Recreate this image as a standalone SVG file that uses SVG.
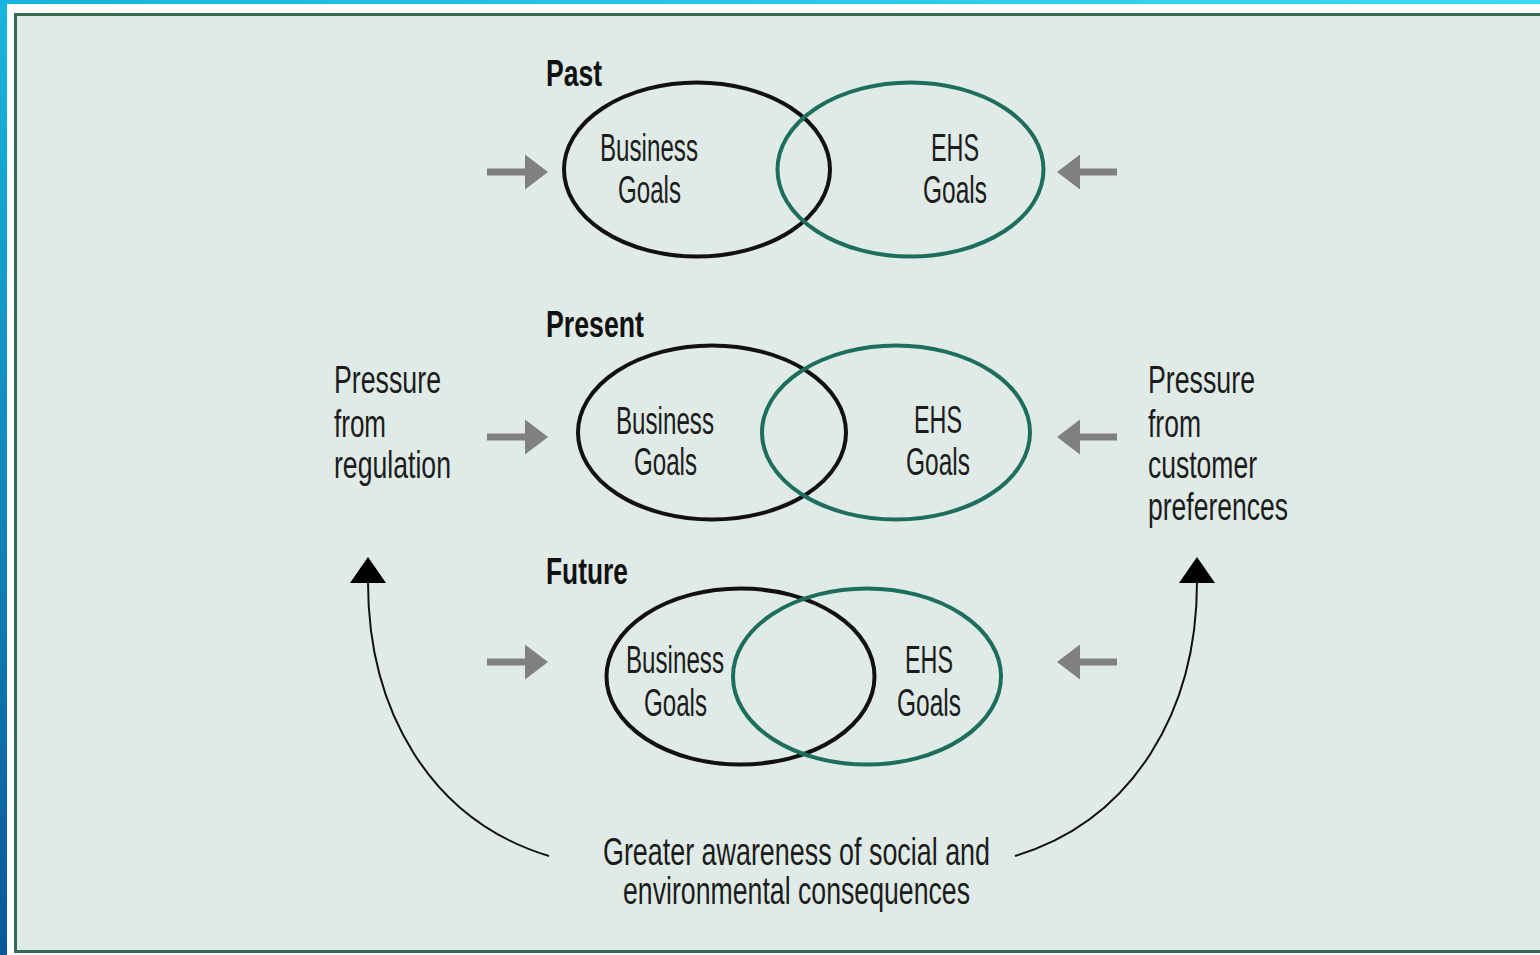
<svg xmlns="http://www.w3.org/2000/svg" xmlns:xlink="http://www.w3.org/1999/xlink" width="1540" height="955" viewBox="0 0 1540 955">
<style>
.t{font-family:"Liberation Sans",Arial,sans-serif;font-size:39px;fill:#1c1c1c}
.b{font-family:"Liberation Sans",Arial,sans-serif;font-size:37px;font-weight:bold;fill:#111}
.bk{fill:none;stroke:#111;stroke-width:4}
.gr{fill:none;stroke:#1d6e5c;stroke-width:4}
.ar{fill:#808080}
.cv{fill:none;stroke:#111;stroke-width:2}
</style>
<defs>
<linearGradient id="bgL" x1="0" y1="0" x2="0" y2="1">
<stop offset="0" stop-color="#18b6df"/>
<stop offset="1" stop-color="#0a5897"/>
</linearGradient>
<linearGradient id="bgT" x1="0" y1="0" x2="1" y2="0">
<stop offset="0" stop-color="#16b4de"/>
<stop offset="1" stop-color="#3fd8f5"/>
</linearGradient>
<path id="arR" d="M487,-3.5 H525 V-17.5 L548,0 L525,17.5 V3.5 H487 Z"/>
<path id="arL" d="M1117,-3.5 H1080 V-17.5 L1057,0 L1080,17.5 V3.5 H1117 Z"/>
</defs>
<g id="background">
<rect x="0" y="0" width="1540" height="955" fill="url(#bgL)"/>
<rect x="0" y="0" width="1540" height="4" fill="url(#bgT)"/>
<rect x="7" y="4" width="1533" height="951" fill="#ffffff"/>
<rect x="15.5" y="14.5" width="1540" height="937" fill="#e0ebe7" stroke="#356b50" stroke-width="3"/>
</g>
<g id="connectors">
<use xlink:href="#arR" class="ar" transform="translate(0,172)"/>
<use xlink:href="#arL" class="ar" transform="translate(0,172)"/>
<use xlink:href="#arR" class="ar" transform="translate(0,437)"/>
<use xlink:href="#arL" class="ar" transform="translate(0,437)"/>
<use xlink:href="#arR" class="ar" transform="translate(0,662)"/>
<use xlink:href="#arL" class="ar" transform="translate(0,662)"/>
<path class="cv" d="M549,856 C430,820 368,710 368,582"/>
<polygon points="368,557 386,583 350,583" fill="#000"/>
<path class="cv" d="M1015,856 C1134,820 1197,710 1197,582"/>
<polygon points="1197,557 1215,583 1179,583" fill="#000"/>
</g>
<g id="past">
<text class="b" x="546" y="86" textLength="56" lengthAdjust="spacingAndGlyphs">Past</text>
<ellipse class="bk" cx="697" cy="169.5" rx="133" ry="87"/>
<ellipse class="gr" cx="910.5" cy="169.5" rx="133" ry="87"/>
<text class="t" x="600" y="161" textLength="98" lengthAdjust="spacingAndGlyphs">Business</text>
<text class="t" x="618" y="203" textLength="63" lengthAdjust="spacingAndGlyphs">Goals</text>
<text class="t" x="931" y="161" textLength="48" lengthAdjust="spacingAndGlyphs">EHS</text>
<text class="t" x="923" y="203" textLength="64" lengthAdjust="spacingAndGlyphs">Goals</text>
</g>
<g id="present">
<text class="b" x="546" y="337" textLength="98" lengthAdjust="spacingAndGlyphs">Present</text>
<ellipse class="bk" cx="712" cy="432.5" rx="134" ry="87"/>
<ellipse class="gr" cx="896" cy="432.5" rx="134" ry="87"/>
<text class="t" x="616" y="434" textLength="98" lengthAdjust="spacingAndGlyphs">Business</text>
<text class="t" x="634" y="475" textLength="63" lengthAdjust="spacingAndGlyphs">Goals</text>
<text class="t" x="914" y="433" textLength="48" lengthAdjust="spacingAndGlyphs">EHS</text>
<text class="t" x="906" y="475" textLength="64" lengthAdjust="spacingAndGlyphs">Goals</text>
</g>
<g id="future">
<text class="b" x="546" y="584" textLength="82" lengthAdjust="spacingAndGlyphs">Future</text>
<ellipse class="bk" cx="740.5" cy="676.5" rx="134" ry="88"/>
<ellipse class="gr" cx="867" cy="676.5" rx="134" ry="88"/>
<text class="t" x="626" y="673" textLength="98" lengthAdjust="spacingAndGlyphs">Business</text>
<text class="t" x="644" y="716" textLength="63" lengthAdjust="spacingAndGlyphs">Goals</text>
<text class="t" x="905" y="673" textLength="48" lengthAdjust="spacingAndGlyphs">EHS</text>
<text class="t" x="897" y="716" textLength="64" lengthAdjust="spacingAndGlyphs">Goals</text>
</g>
<g id="regulation">
<text class="t" x="334" y="393" textLength="107" lengthAdjust="spacingAndGlyphs">Pressure</text>
<text class="t" x="334" y="437" textLength="52" lengthAdjust="spacingAndGlyphs">from</text>
<text class="t" x="334" y="478" textLength="117" lengthAdjust="spacingAndGlyphs">regulation</text>
</g>
<g id="customer">
<text class="t" x="1148" y="393" textLength="107" lengthAdjust="spacingAndGlyphs">Pressure</text>
<text class="t" x="1148" y="437" textLength="53" lengthAdjust="spacingAndGlyphs">from</text>
<text class="t" x="1148" y="478" textLength="109" lengthAdjust="spacingAndGlyphs">customer</text>
<text class="t" x="1148" y="520" textLength="140" lengthAdjust="spacingAndGlyphs">preferences</text>
</g>
<g id="awareness">
<text class="t" x="603" y="865" textLength="387" lengthAdjust="spacingAndGlyphs">Greater awareness of social and</text>
<text class="t" x="623" y="904" textLength="347" lengthAdjust="spacingAndGlyphs">environmental consequences</text>
</g>
</svg>
